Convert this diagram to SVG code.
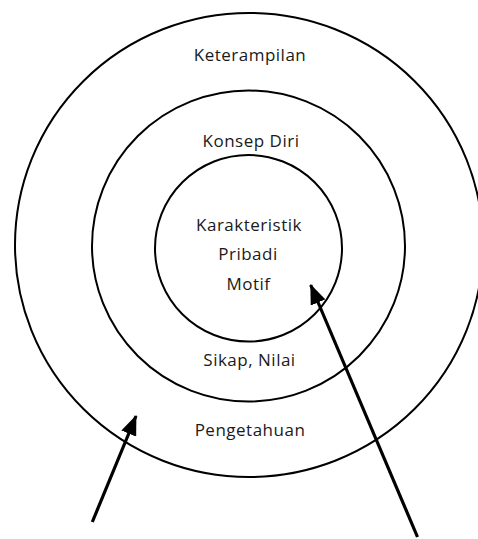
<svg xmlns="http://www.w3.org/2000/svg" width="478" height="539" viewBox="0 0 478 539">
<defs>
<style>
.ring{fill:none;stroke:#000;stroke-width:2}
.lbl{font-family:"Open Sans","Liberation Sans",sans-serif;font-size:17px;letter-spacing:0.5px;fill:#1a1a1a;text-anchor:middle}
.arr{stroke:#000;stroke-width:3.2;fill:none}
</style>
<marker id="ah" markerUnits="userSpaceOnUse" viewBox="0 0 20 16" refX="19" refY="8" markerWidth="20" markerHeight="16" orient="auto">
<path d="M0,0 L20,8 L0,16 Z" fill="#000"/>
</marker>
</defs>
<g id="outer">
<ellipse class="ring" cx="249" cy="245" rx="234" ry="232"/>
<text class="lbl" x="250" y="61">Keterampilan</text>
<text class="lbl" x="250" y="436">Pengetahuan</text>
</g>
<g id="middle">
<ellipse class="ring" cx="248.5" cy="246" rx="156.5" ry="155.5"/>
<text class="lbl" x="251" y="146.5">Konsep Diri</text>
<text class="lbl" x="249.5" y="365.5">Sikap, Nilai</text>
</g>
<g id="inner">
<ellipse class="ring" cx="248.5" cy="248.3" rx="93.5" ry="93.3"/>
<text class="lbl" x="249" y="231">Karakteristik</text>
<text class="lbl" x="248" y="259.5">Pribadi</text>
<text class="lbl" x="248.5" y="290">Motif</text>
</g>
<g id="connectors">
<line class="arr" x1="92.3" y1="522" x2="136" y2="416" marker-end="url(#ah)"/>
<line class="arr" x1="417.5" y1="537" x2="310.7" y2="285" marker-end="url(#ah)"/>
</g>
</svg>
